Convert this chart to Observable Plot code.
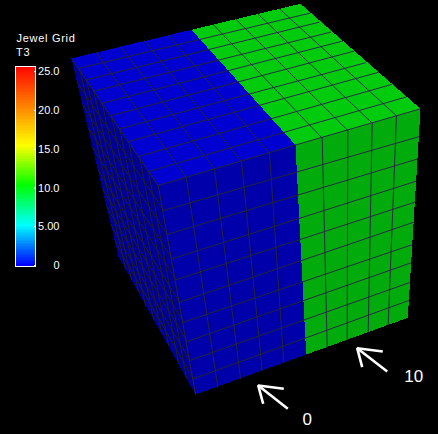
<!DOCTYPE html>
<html>
<head>
<meta charset="utf-8">
<script src="https://cdn.jsdelivr.net/npm/d3@7"></script>
<script src="https://cdn.jsdelivr.net/npm/@observablehq/plot@0.6"></script>
<style>
html,body{margin:0;padding:0;background:#000;width:438px;height:434px;overflow:hidden}
#wrap{position:relative;width:438px;height:434px;font-family:"Liberation Sans",sans-serif;color:#fff}
#wrap svg{position:absolute;left:0;top:0;background:transparent}
.t{position:absolute;left:16.5px;font-size:11px;letter-spacing:.7px;line-height:12px;white-space:nowrap}
</style>
</head>
<body>
<div id="wrap">
<div class="t" style="top:32px">Jewel Grid</div>
<div class="t" style="top:46px;left:16px">T3</div>
</div>
<script>
// Mesh nodes, along the edges of each visible face
const topLeftEdge  = [[71,58],[79,67.7],[86,79.3],[93.3,90.7],[101.7,102.7],[111,115],[119.3,128.3],[128.3,141],[139,155.7],[148,171],[157.7,185]];
const topRightEdge = [[300,3.3],[309.3,12.7],[318.7,21.7],[330,31.7],[341.7,40.7],[353.3,50.7],[365,62.3],[378.3,71.7],[391,84],[405,96.7],[420,108.3]];
const topBackEdge  = [[71,58],[95.7,52],[120,46],[144,40],[167.7,34.3],[191,29.3],[212.7,24],[235,18.3],[257.3,13.3],[279,8.3],[300,3.3]];
const topFrontEdge = [[157.7,185],[185.7,176.7],[214,168.3],[241,161],[269,152.7],[295,144.5],[321.7,137.7],[347.3,130],[371.7,122.7],[396,115.3],[420,108.3]];
const frontLeftEdge  = [[157.7,185],[163.3,210],[166.7,234],[171.7,258.3],[175.7,279.3],[179,301.7],[183.3,321.7],[186.7,341],[189.3,360],[192.7,378.3],[195,394]];
const frontRightEdge = [[420,108.3],[419,136],[417.7,158.3],[415.7,180.7],[414.3,201.7],[413.3,221.7],[412.3,244],[410.7,262.3],[409.3,282],[408.3,300],[407.3,317.3]];
const frontBottomEdge= [[195,394],[217.3,386.7],[240,378.3],[261.7,370],[283.3,362.3],[305.7,354],[326.7,346.7],[346.7,339],[367.7,331.7],[387.7,324.3],[407.3,317.3]];
const leftBackEdge   = [[71,58],[76.6,82],[82,104],[87.4,127],[92,147],[97.3,169],[101.8,188],[106,206],[110.3,224],[114.4,241],[118,256]];
const leftBottomEdge = [[118,256],[125,268],[131,279],[138,291],[145,305],[153,319],[161,332],[168,345],[178,362],[186,378],[195,394]];

// Cell value T3 per half of the grid
const t3Low = 0, t3High = 10;

// Colour legend
const legendTicks = [0,5,10,15,20,25];
const legendLabels = ["0","5.00","10.0","15.0","20.0","25.0"];
const legendMax = 25.8;
const colorStops = [0,5.16,10.32,15.48,25.8];
const colorNames = ["#0000ff","#00ffff","#00ff00","#ffff00","#ff0000"];

// Annotation arrows
const arrowLow  = {tip:[257.7,385], a:[283.3,388.3], b:[262.7,403.3], tail:[287.3,408.3]};
const arrowHigh = {tip:[356.7,347.7], a:[382.3,351], b:[361.7,366.7], tail:[386.7,371]};
const arrowLabels = [{label:"0", at:[306.7,419.5]},{label:"10", at:[413.3,376.5]}];

const color = {type:"linear", domain:colorStops, range:colorNames, interpolate:"rgb", clamp:true};

function cross(p,q,r,s){
  const d=(q[0]-p[0])*(s[1]-r[1])-(q[1]-p[1])*(s[0]-r[0]);
  const t=((r[0]-p[0])*(s[1]-r[1])-(r[1]-p[1])*(s[0]-r[0]))/d;
  return [p[0]+t*(q[0]-p[0]),p[1]+t*(q[1]-p[1])];
}
const poly=(id,t3,pts)=>pts.map(p=>({id,t3,x:p[0],y:p[1]}));
const seg=(id,p,q)=>[{id,x:p[0],y:p[1]},{id,x:q[0],y:q[1]}];

const mid=5, n=10;
const faceTopLow  = poly("tl",t3Low,[topBackEdge[0],topBackEdge[mid],topFrontEdge[mid],topFrontEdge[0]]);
const faceTopHigh = poly("th",t3High,[topBackEdge[mid],topBackEdge[n],topFrontEdge[n],topFrontEdge[mid]]);
const faceFrontLow  = poly("fl",t3Low,[topFrontEdge[0],topFrontEdge[mid],frontBottomEdge[mid],frontBottomEdge[0]]);
const faceFrontHigh = poly("fh",t3High,[topFrontEdge[mid],topFrontEdge[n],frontBottomEdge[n],frontBottomEdge[mid]]);
const faceLeft = poly("s",t3Low,[leftBackEdge[0],topLeftEdge[n],leftBottomEdge[n],leftBottomEdge[0]]);

const gridLow=[], gridHigh=[], gridFrontLow=[], gridSide=[];
for(let i=1;i<n;i++){
  // top face
  const a=topLeftEdge[i], b=topRightEdge[i], c=cross(a,b,topBackEdge[mid],topFrontEdge[mid]);
  gridLow.push(...seg("r"+i,a,c)); gridHigh.push(...seg("r"+i,c,b));
  if(i<mid) gridLow.push(...seg("c"+i,topBackEdge[i],topFrontEdge[i]));
  if(i>mid) gridHigh.push(...seg("c"+i,topBackEdge[i],topFrontEdge[i]));
  // front face
  const e=frontLeftEdge[i], f=frontRightEdge[i], g=cross(e,f,topFrontEdge[mid],frontBottomEdge[mid]);
  gridFrontLow.push(...seg("r"+i,e,g)); gridHigh.push(...seg("fr"+i,g,f));
  if(i<mid) gridFrontLow.push(...seg("c"+i,topFrontEdge[i],frontBottomEdge[i]));
  if(i>mid) gridHigh.push(...seg("fc"+i,topFrontEdge[i],frontBottomEdge[i]));
  // side face
  gridSide.push(...seg("d"+i,topLeftEdge[i],leftBottomEdge[i]));
  gridSide.push(...seg("w"+i,leftBackEdge[i],frontLeftEdge[i]));
}
gridLow.push(...seg("edge1",topLeftEdge[0],topLeftEdge[n]),...seg("edge2",topFrontEdge[0],topFrontEdge[mid]));
gridFrontLow.push(...seg("edge3",frontLeftEdge[0],frontLeftEdge[n]));
gridHigh.push(...seg("edge4",topFrontEdge[mid],topFrontEdge[n]));

const face=(d,o)=>Plot.line(d,{x:"x",y:"y",z:"id",fill:"t3",stroke:null,fillOpacity:o,curve:"linear-closed",shapeRendering:"crispEdges"});
const grid=(d,c)=>Plot.line(d,{x:"x",y:"y",z:"id",stroke:c,strokeWidth:.9,strokeMiterlimit:1,shapeRendering:"crispEdges"});
const arrowPaths=[arrowLow,arrowHigh].flatMap((a,k)=>[
  {id:k+"h",x:a.a[0],y:a.a[1]},{id:k+"h",x:a.tip[0],y:a.tip[1]},{id:k+"h",x:a.b[0],y:a.b[1]},
  {id:k+"s",x:a.tip[0],y:a.tip[1]},{id:k+"s",x:a.tail[0],y:a.tail[1]}]);

const main=Plot.plot({
  width:438,height:434,margin:0,
  x:{domain:[0,438],range:[0,438],axis:null},
  y:{domain:[0,434],range:[0,434],axis:null},
  color,
  marks:[
    face(faceTopLow,.82),face(faceTopHigh,.8),
    face(faceFrontLow,.67),face(faceFrontHigh,.67),
    face(faceLeft,.6),
    grid(gridSide,"#22201e"),grid(gridLow,"#2a2826"),grid(gridFrontLow,"#2a2826"),grid(gridHigh,"#301e48"),
    Plot.line(arrowPaths,{x:"x",y:"y",z:"id",stroke:"#fff",strokeWidth:2.6,strokeLinecap:"butt",strokeLinejoin:"miter"}),
    Plot.text(arrowLabels,{x:d=>d.at[0],y:d=>d.at[1],text:"label",fill:"#fff",fontSize:17,fontFamily:"Liberation Sans",lineAnchor:"middle"})
  ]
});

const ramp=d3.range(0,legendMax,0.2);
const legend=Plot.plot({
  width:70,height:280,marginLeft:15,marginRight:35,marginTop:66,marginBottom:14,
  x:{domain:[0,1],axis:null},
  y:{domain:[0,legendMax],axis:null},
  color,
  marks:[
    Plot.rect(ramp,{x1:()=>0,x2:()=>1,y1:d=>d,y2:d=>Math.min(d+.2,legendMax),fill:d=>d,shapeRendering:"crispEdges"}),
    Plot.frame({stroke:"#fff",strokeWidth:1}),
    Plot.axisY({anchor:"right",ticks:legendTicks,tickSize:-2,tickPadding:26,textAnchor:"end",stroke:"#fff",fill:"#fff",color:"#fff",
      tickFormat:d=>legendLabels[legendTicks.indexOf(d)],fontSize:11,fontFamily:"Liberation Sans",label:null,dy:-1})
  ]
});
const w=document.getElementById("wrap");
for(const s of [main,legend]){s.style.background="transparent";s.style.overflow="visible";w.appendChild(s);}
document.body.style.background="#000";
</script>
</body>
</html>
